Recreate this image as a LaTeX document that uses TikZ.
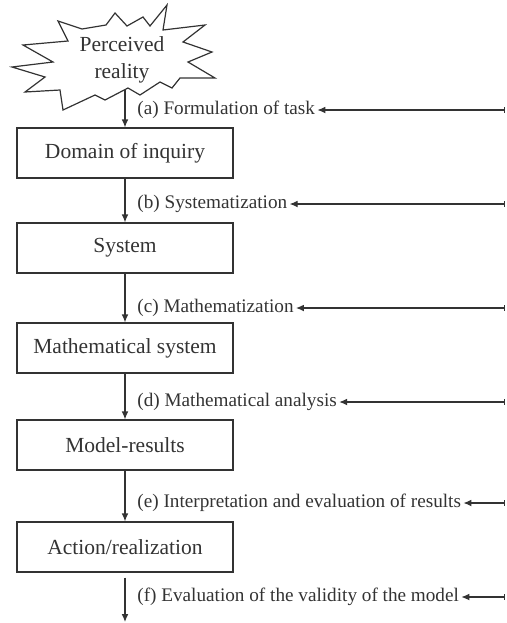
\documentclass[tikz,border=0pt]{standalone}
\usepackage{fontspec}
\setmainfont{Liberation Serif}
\usetikzlibrary{arrows.meta}

\begin{document}
\begin{tikzpicture}[x=0.5pt,y=-0.5pt,
  stage/.style={draw=black!80, line width=0.6pt, minimum width=108pt, minimum height=25pt,
    inner sep=0pt, font=\fontsize{10.75}{13.5}\selectfont, text=black!80},
  steplabel/.style={anchor=west, inner sep=1pt, font=\fontsize{9.6}{12}\selectfont, text=black!80},
  flow/.style={-{Latex[length=4pt,width=3.4pt]}, line width=0.6pt, draw=black!80},
  feedback/.style={{Bar[width=3pt]}-{Latex[length=4pt,width=3.4pt]}, line width=0.6pt, draw=black!80}]

\useasboundingbox (0,0) rectangle (507,623);

% Perceived reality (starburst)
\draw[line width=0.6pt, draw=black!80]
  (58,21) -- (82,29) -- (106,25) -- (115,13) -- (127,26) -- (143,17) -- (150,26)
  -- (167,5) -- (163,30) -- (205,25) -- (183,42) -- (212,52) -- (188,62)
  -- (215,78) -- (180,78) -- (172,88) -- (160,82) -- (140,95)
  -- (128,88) -- (105,100) -- (95,95) -- (63,110) -- (60,90) -- (25,92)
  -- (45,77) -- (12,67) -- (53,62) -- (23,45) -- (68,41) -- cycle;
\node[align=center, font=\fontsize{10.75}{13.5}\selectfont, text=black!80] (real) at (122,60) {Perceived\\reality};
\coordinate (sb) at (125,90);

% Stages
\node[stage] (dom)  at (125,153) {Domain of inquiry};
\node[stage] (sys)  at (125,248) {System};
\node[stage] (msys) at (125,348) {Mathematical system};
\node[stage] (res)  at (125,445) {Model-results};
\node[stage] (act)  at (125,547) {Action/realization};
\coordinate (out) at (125,622);

% Step labels
\node[steplabel] (la) at (135,110) {(a) Formulation of task};
\node[steplabel] (lb) at (135,204) {(b) Systematization};
\node[steplabel] (lc) at (135,308) {(c) Mathematization};
\node[steplabel] (ld) at (135,402) {(d) Mathematical analysis};
\node[steplabel] (le) at (135,503) {(e) Interpretation and evaluation of results};
\node[steplabel] (lf) at (135,597) {(f) Evaluation of the validity of the model};

% Downward flow
\draw[flow] (sb) -- (dom.north);
\draw[flow] (dom.south) -- (sys.north);
\draw[flow] (sys.south) -- (msys.north);
\draw[flow] (msys.south) -- (res.north);
\draw[flow] (res.south) -- (act.north);
\draw[flow] ([yshift=-2.5pt]act.south) -- (out);

% Feedback from the right
\foreach \l/\y in {a/110,b/204,c/308,d/402,e/503,f/597} {
  \coordinate (r\l) at (505,\y);
  \draw[feedback] (r\l) -- (l\l.east);
}

\end{tikzpicture}
\end{document}
